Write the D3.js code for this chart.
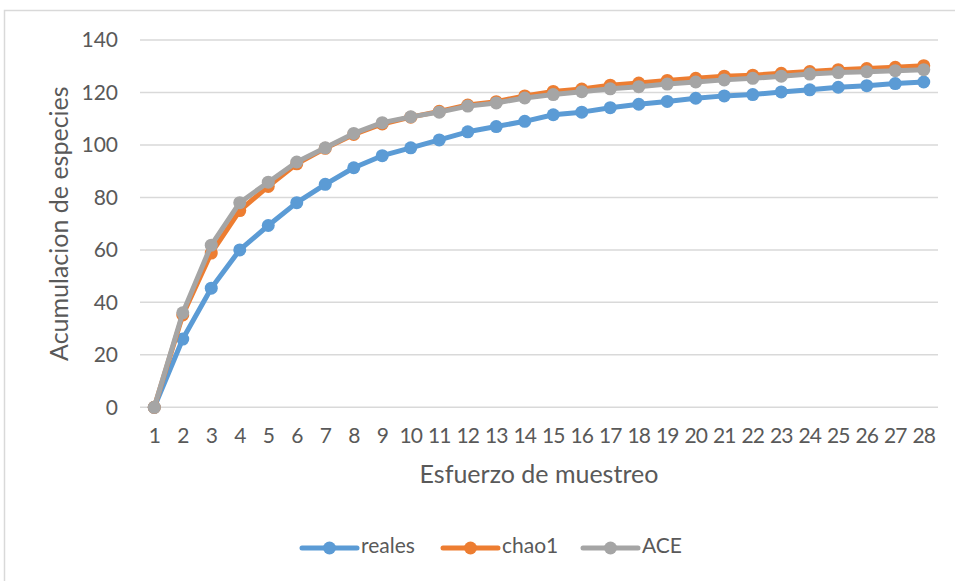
<!DOCTYPE html>
<html>
<head>
<meta charset="utf-8">
<script src="https://cdn.jsdelivr.net/npm/d3@7"></script>
<style>
  html, body { margin: 0; padding: 0; background: #fff; }
  svg { display: block; }
  text { font-family: Lato, "Open Sans", sans-serif; fill: #595959; }
</style>
</head>
<body>
<svg id="chart" width="955" height="581"></svg>
<script>
const categories = d3.range(1, 29).map(String);
const reales = [0, 26.0, 45.4, 60.0, 69.3, 78.0, 85.0, 91.3, 95.9, 98.9, 101.9, 105.0, 107.0, 109.0,
                111.5, 112.5, 114.2, 115.5, 116.6, 117.8, 118.7, 119.2, 120.2, 121.0, 122.0, 122.6, 123.4, 124.0];
const chao1  = [0, 35.2, 58.8, 75.0, 84.2, 92.8, 98.7, 104.0, 108.0, 110.6, 112.8, 115.2, 116.5, 118.7,
                120.4, 121.3, 122.8, 123.6, 124.6, 125.4, 126.2, 126.6, 127.3, 128.0, 128.7, 129.1, 129.6, 130.2];
const ace    = [0, 36.0, 61.8, 78.0, 85.8, 93.5, 98.9, 104.4, 108.5, 110.7, 112.5, 114.8, 116.0, 117.9,
                119.2, 120.3, 121.4, 122.2, 123.2, 124.0, 124.8, 125.4, 126.2, 127.0, 127.6, 127.9, 128.3, 128.7];
const yTicks = [0, 20, 40, 60, 80, 100, 120, 140];
const seriesNames = ["reales", "chao1", "ACE"];
const seriesColors = ["#5B9BD5", "#ED7D31", "#A5A5A5"];
const xTitle = "Esfuerzo de muestreo";
const yTitle = "Acumulacion de especies";

const series = [reales, chao1, ace].map((vals, i) => ({
  name: seriesNames[i], color: seriesColors[i], values: vals
}));

const svg = d3.select("#chart");
const plot = { left: 140, right: 938, top: 40, bottom: 407.3 };

// Outer chart frame
svg.append("rect")
  .attr("x", 4.5).attr("y", 10.5)
  .attr("width", 970).attr("height", 600)
  .attr("fill", "none").attr("stroke", "#D9D9D9").attr("stroke-width", 1.5);

const x = d3.scaleBand().domain(categories).range([plot.left, plot.right]);
const y = d3.scaleLinear().domain([0, 140]).range([plot.bottom, plot.top]);
const cx = c => x(c) + x.bandwidth() / 2;

// Gridlines
svg.append("g")
  .selectAll("line").data(yTicks).join("line")
  .attr("x1", plot.left).attr("x2", plot.right)
  .attr("y1", d => y(d)).attr("y2", d => y(d))
  .attr("stroke", "#D9D9D9").attr("stroke-width", 1.5);

// Y axis labels
const yAxis = d3.axisLeft(y).tickValues(yTicks).tickSize(0).tickPadding(0);
const yg = svg.append("g").attr("transform", `translate(${plot.left - 22},0)`).call(yAxis);
yg.select(".domain").remove();
yg.selectAll("text").attr("font-size", 21).attr("fill", "#595959")
  .style("font-family", "Lato, 'Open Sans', sans-serif");

// X axis labels
const xAxis = d3.axisBottom(x).tickSize(0).tickPadding(0);
const xg = svg.append("g").attr("transform", `translate(0,${plot.bottom + 21})`).call(xAxis);
xg.select(".domain").remove();
xg.selectAll("text").attr("font-size", 21).attr("fill", "#595959")
  .attr("letter-spacing", -1)
  .style("font-family", "Lato, 'Open Sans', sans-serif");

// Axis titles
svg.append("text")
  .attr("x", (plot.left + plot.right) / 2).attr("y", 477)
  .attr("text-anchor", "middle").attr("dominant-baseline", "middle")
  .attr("font-size", 25).text(xTitle);
svg.append("text")
  .attr("transform", `translate(62,${(plot.top + plot.bottom) / 2}) rotate(-90)`)
  .attr("text-anchor", "middle").attr("dominant-baseline", "middle")
  .attr("font-size", 25).text(yTitle);

// Lines and markers
const line = d3.line().x((d, i) => cx(categories[i])).y(d => y(d));
const sg = svg.append("g").selectAll("g").data(series).join("g");
sg.append("path")
  .attr("d", d => line(d.values))
  .attr("fill", "none").attr("stroke", d => d.color)
  .attr("stroke-width", 5).attr("stroke-linejoin", "round");
sg.selectAll("circle").data(d => d.values.map((v, i) => ({ v, i, color: d.color })))
  .join("circle")
  .attr("cx", d => cx(categories[d.i])).attr("cy", d => y(d.v))
  .attr("r", 6.5).attr("fill", d => d.color);

// Legend
const legendX = [302, 443, 583];
const lg = svg.append("g").selectAll("g").data(series).join("g")
  .attr("transform", (d, i) => `translate(${legendX[i]},548)`);
lg.append("line").attr("x1", 0).attr("x2", 55).attr("y1", 0).attr("y2", 0)
  .attr("stroke", d => d.color).attr("stroke-width", 5).attr("stroke-linecap", "round");
lg.append("circle").attr("cx", 27.5).attr("cy", 0).attr("r", 6.5).attr("fill", d => d.color);
lg.append("text").attr("x", 59).attr("y", 0).attr("dominant-baseline", "middle")
  .attr("font-size", 21).text(d => d.name);
</script>
</body>
</html>
